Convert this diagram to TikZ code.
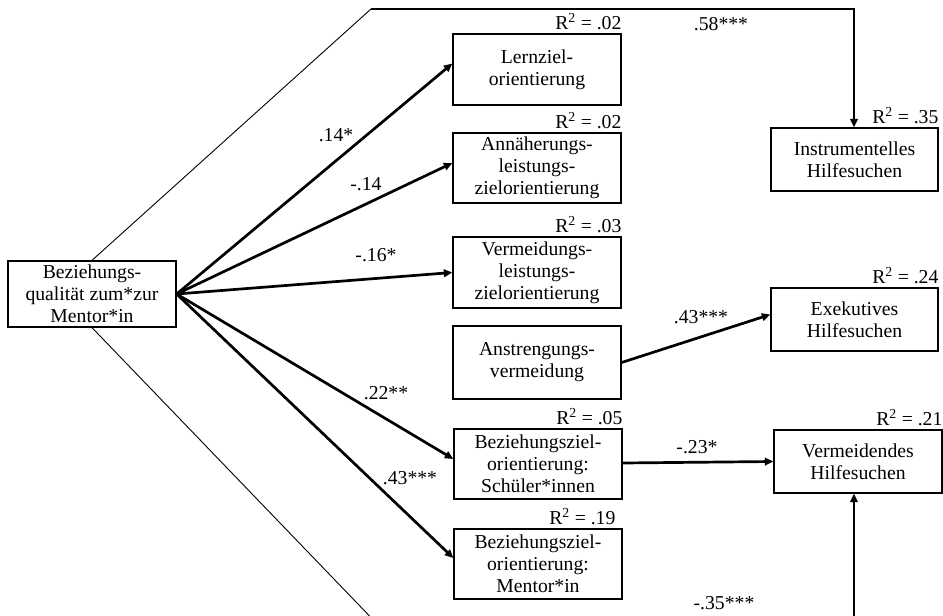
\documentclass[tikz,border=0pt]{standalone}
\usepackage{fontspec}
\setmainfont{Liberation Serif}
\usetikzlibrary{arrows.meta,calc}
\begin{document}
\begin{tikzpicture}[x=1pt,y=-1pt,
  box/.style={draw,line width=1.3pt,minimum width=168pt,inner sep=0pt,align=center,
    font=\fontsize{19.7}{22}\selectfont},
  rlab/.style={anchor=south east,inner xsep=0pt,inner ysep=3pt,font=\fontsize{19.7}{22}\selectfont},
  lab/.style={inner sep=0pt,font=\fontsize{19.7}{22}\selectfont},
  thickarr/.style={line width=2.7pt,-{Triangle[length=8.5pt,width=7.5pt]}},
  thinline/.style={line width=0.9pt},
]
\useasboundingbox (0,0) rectangle (943,616);
\clip (0,0) rectangle (943,616);

% nodes
\node[box,minimum height=66pt] (bq) at (92,294) {Beziehungs-\\qualität zum*zur\\Mentor*in};
\node[box,minimum height=71pt] (lz) at (537,69.5) {Lernziel-\\orientierung};
\node[box,minimum height=70pt] (an) at (537,168) {Annäherungs-\\leistungs-\\zielorientierung};
\node[box,minimum height=71pt] (vl) at (537,272.5) {Vermeidungs-\\leistungs-\\zielorientierung};
\node[box,minimum height=73pt] (av) at (537,362.5) {Anstrengungs-\\vermeidung};
\node[box,minimum height=70pt] (bs) at (538,464) {Beziehungsziel-\\orientierung:\\Schüler*innen};
\node[box,minimum height=70pt] (bm) at (538,564) {Beziehungsziel-\\orientierung:\\Mentor*in};
\node[box,minimum width=167pt,minimum height=63pt] (ih) at (854.5,159.5) {Instrumentelles\\Hilfesuchen};
\node[box,minimum width=167pt,minimum height=63pt] (eh) at (854.5,319.5) {Exekutives\\Hilfesuchen};
\node[box,minimum height=63pt] (vh) at (858,461.5) {Vermeidendes\\Hilfesuchen};

% R^2 labels
\node[rlab] (rlz) at (lz.north east) {R\textsuperscript{2} = .02};
\node[rlab] (ran) at (an.north east) {R\textsuperscript{2} = .02};
\node[rlab] (rvl) at (vl.north east) {R\textsuperscript{2} = .03};
\node[rlab] (rbs) at (bs.north east) {R\textsuperscript{2} = .05};
\node[rlab,xshift=-7pt] (rbm) at (bm.north east) {R\textsuperscript{2} = .19};
\node[rlab] (rih) at (ih.north east) {R\textsuperscript{2} = .35};
\node[rlab] (reh) at (eh.north east) {R\textsuperscript{2} = .24};
\node[rlab] (rvh) at (vh.north east) {R\textsuperscript{2} = .21};

% arrows from predictor
\draw[thickarr] (bq.east) -- ([yshift=6pt]lz.west);
\draw[thickarr] (bq.east) -- ([yshift=5pt]an.west);
\draw[thickarr] (bq.east) -- (vl.west);
\draw[thickarr] (bq.east) -- ([yshift=5pt]bs.west);
\draw[thickarr] (bq.east) -- ([yshift=6pt]bm.west);
\draw[thickarr] (av.east) -- ([yshift=5pt]eh.west);
\draw[thickarr] ([yshift=1pt]bs.east) -- (vh.west);

% direct paths
\coordinate (t1) at (371,9);
\coordinate (t2) at (854,9);
\draw[thinline] (bq.north) -- (t1);
\draw[line width=1.2pt] (t1) -- (t2);
\draw[thickarr,line width=2.2pt] ([yshift=0.6pt]t2) -- (t2 |- ih.north);

\coordinate (b1) at (383,630);
\coordinate (b2) at (854,630);
\draw[thinline] (bq.south) -- (b1) -- (b2);
\draw[thickarr,line width=2.2pt] (b2) -- (b2 |- vh.south);

% coefficient labels
\node[lab] (l1) at (336,135) {.14*};
\node[lab] (l2) at (366,184) {-.14};
\node[lab] (l3) at (376,255) {-.16*};
\node[lab] (l4) at (386,393) {.22**};
\node[lab] (l5) at (410,478) {.43***};
\node[lab] (l6) at (721,24) {.58***};
\node[lab] (l7) at (701,317) {.43***};
\node[lab] (l8) at (697,447) {-.23*};
\node[lab] (l9) at (724,603) {-.35***};
\end{tikzpicture}
\end{document}
